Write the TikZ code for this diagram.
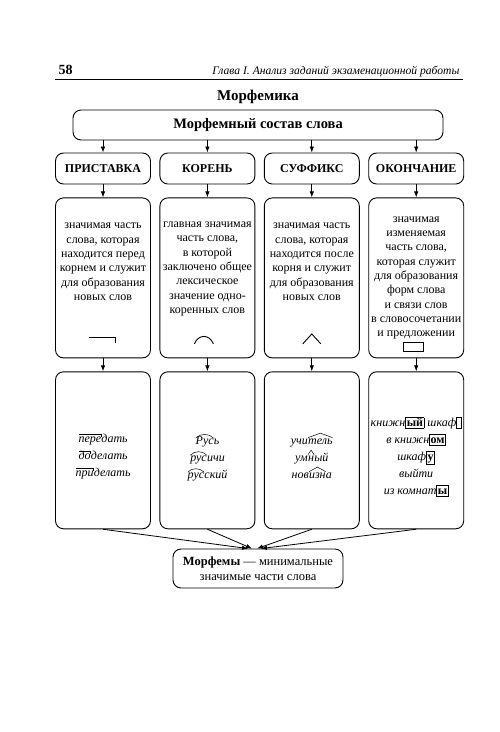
\documentclass[tikz,border=0pt]{standalone}
\usepackage{fontspec}
\setmainfont{Liberation Serif}
\usetikzlibrary{positioning,calc,arrows.meta}
\tikzset{mbox/.style={draw, rounded corners=8, line width=0.9pt, minimum width=95pt, align=center, inner sep=2pt}}
\tikzset{arr/.style={draw, -{Latex[length=6pt,width=4.5pt]}, line width=0.8pt}}
\tikzset{msign/.style={line width=0.9pt}}
\tikzset{deftext/.style={align=center, font=\fontsize{12}{14.3}\selectfont}}
\tikzset{extext/.style={align=center, font=\fontsize{12}{17}\selectfont\itshape}}
\tikzset{wpart/.style={inner sep=0pt, outer sep=0pt, text height=0.62em, text depth=0.22em}}
\newcommand{\prefmark}[1]{\tikz[baseline=(w.base)]{\node[wpart] (w) {#1};
	\draw[line width=.5pt] ([yshift=1pt]w.north west) -- ([yshift=1pt]w.north east) -- ([yshift=-2pt]w.north east);}}
\newcommand{\rootmark}[1]{\tikz[baseline=(w.base)]{\node[wpart] (w) {#1};
	\draw[line width=.5pt] ([yshift=-1.5pt]w.north west) to[bend left=45] ([yshift=-1.5pt]w.north east);}}
\newcommand{\sufmark}[1]{\tikz[baseline=(w.base)]{\node[wpart] (w) {#1};
	\draw[line width=.5pt] ([yshift=-1pt]w.north west) -- ([yshift=3.5pt]w.north) -- ([yshift=-1pt]w.north east);}}
\newcommand{\flexmark}[1]{{\setlength{\fboxsep}{0.6pt}\setlength{\fboxrule}{0.8pt}\fbox{\upshape\bfseries\vphantom{й}#1}}}

\begin{document}
\begin{tikzpicture}[x=1pt, y=-1pt]
	\useasboundingbox (0,0) rectangle (500,732);
	\node[anchor=base west, font=\fontsize{14}{16}\selectfont\bfseries] (pnum) at (55,74) {58};
	\node[anchor=base east, font=\fontsize{11.6}{14}\selectfont\itshape] (runhead) at (463,74)
		{Глава I. Анализ заданий экзаменационной работы};
	\draw[line width=1.1pt] (55,79.5) -- (463,79.5);
	\node[font=\fontsize{15}{17}\selectfont\bfseries] (title) at (258,97) {Морфемика};
	\node[mbox, minimum width=370pt, minimum height=30pt, font=\fontsize{14.5}{17}\selectfont\bfseries]
		(compo) at (258,125) {Морфемный состав слова};

	\node[mbox, minimum height=31pt, font=\fontsize{12}{14}\selectfont\bfseries] (pref) at (103,168.5) {ПРИСТАВКА};
	\node[mbox, minimum height=31pt, font=\fontsize{12}{14}\selectfont\bfseries, right=8.5pt of pref] (root) {КОРЕНЬ};
	\node[mbox, minimum height=31pt, font=\fontsize{12}{14}\selectfont\bfseries, right=8.5pt of root] (suff) {СУФФИКС};
	\node[mbox, minimum height=31pt, font=\fontsize{12}{14}\selectfont\bfseries, right=8.5pt of suff] (ending) {ОКОНЧАНИЕ};

	\node[mbox, minimum height=160pt, below=13pt of pref] (defpref) {};
	\node[mbox, minimum height=160pt, below=13pt of root] (defroot) {};
	\node[mbox, minimum height=160pt, below=13pt of suff] (defsuff) {};
	\node[mbox, minimum height=160pt, below=13pt of ending] (defend) {};

	\node[deftext] (tpref) at ($(defpref.center)+(0,-16)$)
		{значимая часть\\слова, которая\\находится перед\\корнем и служит\\для образования\\новых слов};
	\node[deftext] (troot) at ($(defroot.center)+(0,-9)$)
		{главная значимая\\часть слова,\\в которой\\заключено общее\\лексическое\\значение одно-\\коренных слов};
	\node[deftext] (tsuff) at ($(defsuff.center)+(0,-16)$)
		{значимая часть\\слова, которая\\находится после\\корня и служит\\для образования\\новых слов};
	\node[deftext] (tend) at ($(defend.center)+(0,0)$)
		{значимая\\изменяемая\\часть слова,\\которая служит\\для образования\\форм слова\\и связи слов\\в словосочетании\\и предложении};

	\draw[msign] ($(defpref.center)+(-14,59.5)$) -- ++(26,0) -- ++(0,6);
	\draw[msign] ($(defroot.center)+(-13,66)$) .. controls +(4,-10) and +(-4,-10) .. ++(19,0);
	\draw[msign] ($(defsuff.center)+(-9,66)$) -- ++(9,-10) -- ++(9,10);
	\draw[msign] ($(defend.center)+(-13,65)$) rectangle ++(20,9);

	\node[mbox, minimum height=157pt, below=13pt of defpref] (expref) {};
	\node[mbox, minimum height=157pt, below=13pt of defroot] (exroot) {};
	\node[mbox, minimum height=157pt, below=13pt of defsuff] (exsuff) {};
	\node[mbox, minimum height=157pt, below=13pt of defend] (exend) {};

	\node[extext] (wpref) at ($(expref.center)+(0,6.5)$)
		{\prefmark{пере}дать\\\prefmark{до}делать\\\prefmark{при}делать};
	\node[extext] (wroot) at ($(exroot.center)+(0,6.5)$)
		{\rootmark{Рус}ь\\\rootmark{рус}ичи\\\rootmark{рус}ский};
	\node[extext] (wsuff) at ($(exsuff.center)+(0,6.5)$)
		{учи\sufmark{тель}\\ум\sufmark{н}ый\\нов\sufmark{изн}а};
	\node[extext] (wend) at ($(exend.center)+(0,6.5)$)
		{книжн\flexmark{ый} шкаф\flexmark{\hspace{2.5pt}}\\в книжн\flexmark{ом}\\шкаф\flexmark{у}\\выйти\\из комнат\flexmark{ы}};

	\node[mbox, minimum width=170pt, minimum height=39pt, font=\fontsize{12.5}{15}\selectfont] (morph) at (258,568.5)
		{\textbf{Морфемы} — минимальные\\значимые части слова};

	\draw[arr] (compo.south -| pref) -- (pref);
	\draw[arr] (compo.south -| root) -- (root);
	\draw[arr] (compo.south -| suff) -- (suff);
	\draw[arr] (compo.south -| ending) -- (ending);
	\draw[arr] (pref) -- (defpref);
	\draw[arr] (root) -- (defroot);
	\draw[arr] (suff) -- (defsuff);
	\draw[arr] (ending) -- (defend);
	\draw[arr] (defpref) -- (expref);
	\draw[arr] (defroot) -- (exroot);
	\draw[arr] (defsuff) -- (exsuff);
	\draw[arr] (defend) -- (exend);
	\draw[arr] (expref.south) -- ([xshift=-10pt]morph.north);
	\draw[arr] (exroot.south) -- ([xshift=-6pt]morph.north);
	\draw[arr] (exsuff.south) -- ([xshift=-1pt]morph.north);
	\draw[arr] (exend.south) -- ([xshift=3pt]morph.north);
\end{tikzpicture}
\end{document}
